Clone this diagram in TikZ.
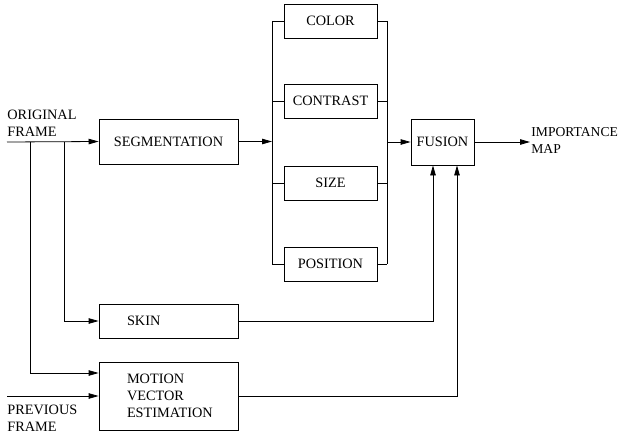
\documentclass[tikz,border=0pt]{standalone}
\usepackage{fontspec}
\setmainfont{Liberation Serif}
\usetikzlibrary{arrows.meta}

\begin{document}
\begin{tikzpicture}[x=1pt,y=-1pt,line width=0.8pt,
    >={Triangle[length=10pt,width=5.5pt]},
    every node/.style={font=\fontsize{14.3}{17}\selectfont},
    blk/.style={draw, inner sep=0pt},
    feat/.style={blk, minimum width=93pt, minimum height=34pt},
    lbl/.style={align=left, inner sep=0pt}]
    \useasboundingbox (0,0) rectangle (621,436);

    % left column
    \node[blk, minimum width=139pt, minimum height=45pt] (seg) at (168.5,141.5) {SEGMENTATION};
    \node[blk, minimum width=139pt, minimum height=34pt, text width=83pt, align=left] (skin) at (168.5,321) {SKIN};
    \node[blk, minimum width=139pt, minimum height=68pt, text width=83pt, align=left] (motion) at (168.5,396) {MOTION\\VECTOR\\ESTIMATION};

    % feature boxes between the two rails
    \node[feat] (color) at (330.5,21) {COLOR};
    \node[feat] (contrast) at (330.5,101) {CONTRAST};
    \node[feat] (size) at (330.5,183) {SIZE};
    \node[feat] (position) at (330.5,264) {POSITION};

    \node[blk, minimum width=63pt, minimum height=46pt] (fusion) at (442.5,142) {FUSION};

    % inputs and output
    \coordinate (orig) at (7,142);
    \coordinate (prev) at (7,396);
    \coordinate (tapA) at (30,142);
    \coordinate (tapB) at (64,142);
    \coordinate (railL) at (272,0);
    \coordinate (railR) at (387,0);
    \coordinate (out) at (530,142);

    \node[lbl, anchor=south west] (origtext) at (7,137) {ORIGINAL\\FRAME};
    \node[lbl, anchor=north west] (prevtext) at (7,405) {PREVIOUS\\FRAME};
    \node[lbl, anchor=north west, font=\fontsize{13.6}{17}\selectfont] (outtext) at (531,127) {IMPORTANCE\\MAP};

    \draw[->] (orig) -- (seg.west);
    \draw[->] (tapB) |- (skin.west);
    \draw[->] (tapA) |- ([yshift=23pt]motion.west);
    \draw[->] (prev) -- (motion.west);

    % rails
    \draw (railL |- color.west) -- (railL |- position.west);
    \draw (railR |- color.east) -- (railR |- position.east);
    \foreach \f in {color,contrast,size,position} {
        \draw (railL |- \f.west) -- (\f.west);
        \draw (\f.east) -- (railR |- \f.east);
    }
    \draw[->] (seg.east) -- (railL |- seg.east);
    \draw[->] (railR |- fusion.west) -- (fusion.west);
    \draw[->] (fusion.east) -- (out);

    \draw[->] (skin.east) -| ([xshift=-9.5pt]fusion.south);
    \draw[->] (motion.east) -| ([xshift=14.5pt]fusion.south);
\end{tikzpicture}
\end{document}
